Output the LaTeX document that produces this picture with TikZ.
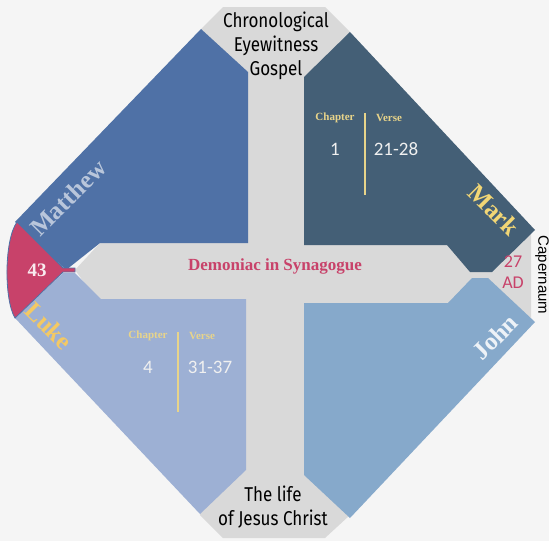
\documentclass[tikz,border=0pt]{standalone}
\usepackage{fontspec}
\setmainfont{Liberation Serif}
\newfontfamily\headfont[FakeStretch=0.85]{Fira Sans}
\newfontfamily\numfont{Carlito}
\newfontfamily\sidefont{Liberation Sans}
\definecolor{gsBack}{HTML}{F5F5F5}
\definecolor{gsCross}{HTML}{D9D9D9}
\definecolor{gsMatt}{HTML}{4F71A6}
\definecolor{gsMark}{HTML}{445F76}
\definecolor{gsLuke}{HTML}{9DB0D4}
\definecolor{gsJohn}{HTML}{86A9CB}
\definecolor{gsRose}{HTML}{C8426A}
\definecolor{gsGold}{HTML}{F2D675}
\definecolor{gsPale}{HTML}{E8D48A}
\usetikzlibrary{positioning}

\begin{document}
\begin{tikzpicture}[x=1pt,y=-1pt, gospel/.style={font=\bfseries\fontsize{25}{25}\selectfont,inner sep=0pt}, colhead/.style={font=\bfseries\fontsize{11}{11}\selectfont,text=gsPale,inner sep=0pt}, colnum/.style={font=\numfont\fontsize{19}{19}\selectfont,text=white!94!black,inner sep=0pt}, head/.style={font=\headfont\fontsize{20}{24}\selectfont,align=center,inner sep=0pt}]
\useasboundingbox (0,0) rectangle (549,541);
\fill[gsBack] (0,0) rectangle (549,541);
% grey cross
\fill[gsCross] (223,7)--(325,7)--(350,32)--(350,515)--(325,538)--(223,538)--(200,515)--(200,30)--cycle;
\fill[gsCross] (75,270)--(100,243)--(505,243)--(531,232)--(531,318)--(505,304)--(100,304)--cycle;
% four panels
\fill[gsMatt] (15,222)--(201,29)--(248,72)--(248,243)--(100,243)--(66,270)--cycle;
\fill[gsMark] (304,77)--(350,32)--(535,230)--(492,272)--(470,272)--(447,245)--(304,245)--cycle;
\fill[gsLuke] (15,318)--(63,273)--(75,273)--(101,299)--(246,299)--(246,470)--(200,514)--cycle;
\fill[gsJohn] (304,303)--(448,303)--(472,278)--(488,278)--(535,322)--(350,518)--(304,475)--cycle;
% red cap
\fill[gsRose,draw=gsMatt,line width=.8pt] (17,222)--(63,268)--(75,268)--(75,272)--(63,272)--(15,318) .. controls (4,300) and (4,240) .. (17,222)--cycle;
% texts
\node[head] (title) at (276,46) {Chronological\\Eyewitness\\Gospel};
\node[head] (life) at (273,507) {The life\\of Jesus Christ};
\node[font=\bfseries\fontsize{17}{17}\selectfont,text=gsRose] (event) at (275,266) {Demoniac in Synagogue};
\node[font=\bfseries\fontsize{19}{19}\selectfont,text=white!90!gsRose] (chap) at (37,270) {43};
\node[font=\numfont\fontsize{18}{21}\selectfont,text=gsRose,align=center] (year) at (513,272) {27\\AD};
\node[font=\sidefont\fontsize{15}{15}\selectfont,rotate=-90] (place) at (542,275) {Capernaum};
\node[gospel,rotate=45,text=gsMatt!40!white] (matt) at (68,198) {Matthew};
\node[gospel,rotate=-45,text=gsGold] (mark) at (494,210) {Mark};
\node[gospel,rotate=-45,text=gsGold!85!orange] (luke) at (49,326) {Luke};
\node[gospel,rotate=45,text=white!85!gsJohn] (john) at (495,337) {John};
% Mark reference
\coordinate (mtop) at (365,113);
\coordinate (mbot) at (365,195);
\draw[gsPale,line width=1.2pt] (mtop)--(mbot);
\node[colhead] (mchap) at (335,118) {Chapter};
\node[colhead] (mverse) at (389,118) {Verse};
\node[colnum] (mc) at (335,149) {1};
\node[colnum] (mv) at (396,149) {21-28};
% Luke reference
\coordinate (ltop) at (178,332);
\coordinate (lbot) at (178,412);
\draw[gsPale,line width=1.2pt] (ltop)--(lbot);
\node[colhead] (lchap) at (148,336) {Chapter};
\node[colhead] (lverse) at (202,336) {Verse};
\node[colnum] (lc) at (148,367) {4};
\node[colnum] (lv) at (210,367) {31-37};
\end{tikzpicture}
\end{document}
